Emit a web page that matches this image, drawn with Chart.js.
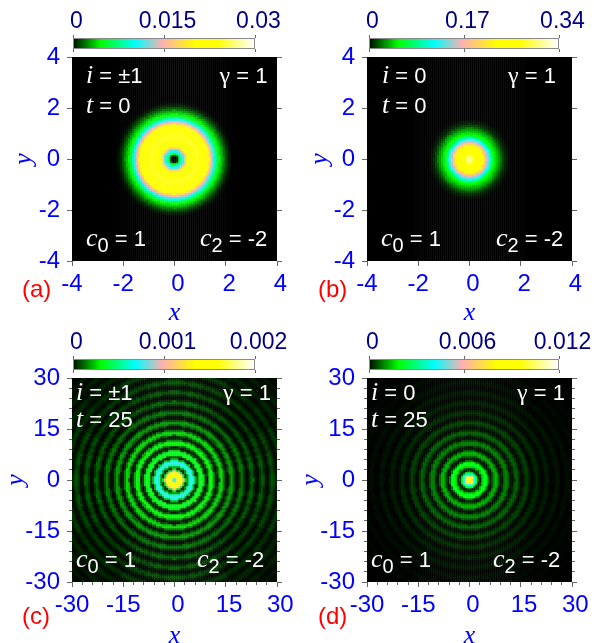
<!DOCTYPE html>
<html>
<head>
<meta charset="utf-8">
<style>
html,body{margin:0;padding:0;background:#fff;width:594px;height:643px;overflow:hidden;position:relative}
canvas{position:absolute;display:block}
</style>
<script src="https://cdn.jsdelivr.net/npm/chart.js@4/dist/chart.umd.min.js"></script>
</head>
<body>
<script>
// Radial density profiles, as a fraction of the colour-bar maximum.
const profileA = [0,.005,.02,.07,.16,.25,.32,.38,.46,.58,.68,.70,.72,.74,.76,.78,.80,.82,.82,.82,.80,.78,.75,.72,.70,.70,.70,.68,.58,.50,.44,.37,.30,.24,.19,.16,.14,.12,.10,.075,.055,.04,.025,.015,.008,.003,0];
const profileB = [.92,.90,.88,.85,.82,.79,.76,.73,.71,.69,.69,.66,.58,.50,.45,.40,.34,.27,.21,.17,.15,.13,.115,.10,.08,.06,.045,.03,.02,.015,.01,.005,0];
const profileC = [.12,.40,.70,.76,.72,.50,.15,.02,.10,.30,.38,.33,.12,.01,.05,.16,.20,.15,.04,.01,.06,.15,.17,.11,.03,.008,.05,.12,.14,.08,.02,.006,.05,.09,.10,.055,.012,.006,.035,.07,.075,.04,.01,.006,.03,.055,.06,.03,.008,.006,.025,.05,.05,.025,.008,.008,.028,.048,.04,.02,.008,.01,.028,.04,.033,.016,.008,.014,.028,.033,.026,.012,.008,.014,.025,.026,.016,.008,.012,.022,.022,.012,.008,.012,.018,.012];
const profileD = [.74,.72,.62,.36,.20,.06,.01,.05,.13,.18,.17,.08,.015,.01,.05,.10,.11,.065,.012,.008,.035,.07,.08,.05,.012,.006,.025,.05,.06,.033,.008,.005,.02,.035,.04,.024,.006,.004,.014,.026,.026,.015,.005,.003,.011,.018,.018,.009,.003,.003,.008,.013,.013,.007,.002,.002,.006,.009,.009,.004,.002,.002,.004,.006,.006,.003,.002,.002,.004,.005,.004,.002,.002,.002,.003,.003,.002,.002,.002,.002,.002,.002,.002,.002,.002,.002];
// Angular strength of the outer rings in panel (c), from the axis (0 deg) to the diagonal (45 deg).
const outerGainC = [1.15,1.0,1.1,.85,.95,.7,.8,.65];
// Colour bars
const barTicksA = [0,0.015,0.03];
const barTicksB = [0,0.17,0.34];
const barTicksC = [0,0.001,0.002];
const barTicksD = [0,0.006,0.012];
const barLabelsA = ['0','0.015','0.03'];
const barLabelsB = ['0','0.17','0.34'];
const barLabelsC = ['0','0.001','0.002'];
const barLabelsD = ['0','0.006','0.012'];
// Palette
const paletteStops = [0,.16,.35,.5,.68,.8,1];
const paletteRGB = [[0,0,0],[0,255,0],[0,255,255],[255,176,176],[255,255,0],[255,255,0],[255,255,255]];

function colorOf(t){
  t = Math.max(0,Math.min(1,t));
  let i = 0;
  while(i < paletteStops.length-2 && t > paletteStops[i+1]) i++;
  const f = (t-paletteStops[i])/(paletteStops[i+1]-paletteStops[i]);
  const a = paletteRGB[i], b = paletteRGB[i+1];
  return 'rgb('+a.map((v,k)=>Math.round(v+(b[k]-v)*f)).join(',')+')';
}

const SANS = '"Liberation Sans"', SERIF = '"Liberation Serif"';
const BLUE = '#0000ff', NAVY = '#00007f', TICK = '#666666';

const panels = [
 {tag:'(a)',tagX:22,tagY:297,profile:profileA,step:.05,lim:4,major:2,minor:0,max:.03,bt:barTicksA,bl:barLabelsA,
  L:72,T:57,cl:-10,ct:40,cb:335,yp:19,xp:6.6,
  bar:{l:73,r:255,t:38,b:49},
  text:[[86,83,'i',' = ±1'],[86,113,'t',' = 0'],[219.5,83,'g',' = 1'],[86,246,'c','0',' = 1'],[200,246,'c','2',' = -2']]},
 {tag:'(b)',tagX:318,tagY:297,profile:profileB,step:.05,lim:4,major:2,minor:0,max:.34,bt:barTicksB,bl:barLabelsB,
  L:367,T:57,cl:287,ct:40,cb:335,yp:18,xp:6.6,
  bar:{l:369,r:559,t:38,b:49},
  text:[[382,83,'i',' = 0'],[382,113,'t',' = 0'],[508,83,'g',' = 1'],[381,246,'c','0',' = 1'],[496,246,'c','2',' = -2']]},
 {tag:'(c)',tagX:22,tagY:624,profile:profileC,step:.5,gain:outerGainC,lim:30,major:15,minor:3,max:.002,bt:barTicksC,bl:barLabelsC,
  L:72,T:378,cl:-10,ct:360,cb:660,yp:10.6,xp:8.6,
  bar:{l:73,r:255,t:359,b:370},
  text:[[76,399.5,'i',' = ±1'],[76,427,'t',' = 25'],[223,399.5,'g',' = 1'],[76,567,'c','0',' = 1'],[197,567,'c','2',' = -2']]},
 {tag:'(d)',tagX:318,tagY:624,profile:profileD,step:.5,lim:30,major:15,minor:3,max:.012,bt:barTicksD,bl:barLabelsD,
  L:367,T:378,cl:287,ct:360,cb:660,yp:8.6,xp:8.6,
  bar:{l:369,r:559,t:359,b:370},
  text:[[371,399.5,'i',' = 0'],[371,427,'t',' = 25'],[517,399.5,'g',' = 1'],[371,567,'c','0',' = 1'],[493,567,'c','2',' = -2']]}
];
const AREA_W = 205, AREA_H = 204, CELLS = 102;

function addCanvas(l,t,w,h){
  const c = document.createElement('canvas');
  c.width = w; c.height = h;
  c.style.left = l+'px'; c.style.top = t+'px';
  c.style.width = w+'px'; c.style.height = h+'px';
  document.body.appendChild(c);
  return c;
}
function noPad(s){ s.paddingLeft = s.paddingRight = s.paddingTop = s.paddingBottom = 0; }
function fixW(w){ return s => { s.width = w; noPad(s); }; }
function fixH(h){ return s => { s.height = h; noPad(s); }; }
function tickGrid(len){ return {display:true,drawOnChartArea:false,drawTicks:true,tickLength:len,tickColor:TICK,tickWidth:1}; }

function drawRuns(ctx,p,ox,oy){
  ctx.save();
  ctx.textBaseline = 'alphabetic';
  ctx.textAlign = 'left';
  ctx.fillStyle = '#fff';
  for(const r of p.text){
    let x = r[0]-ox; const y = r[1]-oy;
    const put = (s,font,dy)=>{ ctx.font = font; ctx.fillText(s,x,y+(dy||0)); x += ctx.measureText(s).width; };
    if(r[2]==='g') put('γ','24px '+SERIF);
    else put(r[2],'italic 26px '+SERIF);
    if(r[2]==='c'){ put(r[3],'20px '+SANS,6); put(r[4],'22px '+SANS); }
    else put(r[3],'22px '+SANS);
  }
  ctx.fillStyle = '#ff0000';
  ctx.font = '24px '+SANS;
  ctx.fillText(p.tag,p.tagX-ox,p.tagY-oy);
  ctx.restore();
}

function heatChart(p){
  const cw = p.L+AREA_W+24-p.cl, ch = p.cb-p.ct;
  const canvas = addCanvas(p.cl,p.ct,cw,ch);
  const cellsData = [], cellsColor = [];
  const d = 2*p.lim/CELLS;
  for(let j=0;j<CELLS;j++){
    const y = -p.lim+(j+.5)*d;
    for(let i=0;i<CELLS;i++){
      const x = -p.lim+(i+.5)*d;
      const r = Math.hypot(x,y);
      const k = Math.round(r/p.step);
      let v = k<p.profile.length ? p.profile[k] : 0;
      if(p.gain){
        const a = Math.atan2(Math.abs(y),Math.abs(x));
        const fold = Math.min(a,Math.PI/2-a);
        const g = p.gain[Math.round(fold/(Math.PI/4)*(p.gain.length-1))];
        const w = Math.max(0,Math.min(1,(r-16)/8));
        v *= 1+(g-1)*w;
      }
      const value = v*p.max;
      cellsData.push({x,y,v:value});
      cellsColor.push(colorOf(value/p.max));
    }
  }
  const tickFont = {family:SANS,size:24};
  const titleFont = {family:SERIF,size:26,style:'italic'};
  const scales = {
    x:{type:'linear',position:'bottom',min:-p.lim,max:p.lim,
       ticks:{stepSize:p.major,color:BLUE,font:tickFont,padding:4,autoSkip:false,maxRotation:0,
              callback:v=>(v>=0?' ':'')+v},
       grid:tickGrid(5),border:{display:false},
       title:{display:true,text:'x',color:BLUE,font:titleFont,padding:{top:0,bottom:p.xp}},
       afterFit:fixH(p.cb-(p.T+AREA_H))},
    y:{type:'linear',position:'left',min:-p.lim,max:p.lim,
       ticks:{stepSize:p.major,color:BLUE,font:tickFont,padding:7,autoSkip:false},
       grid:tickGrid(5),border:{display:false},
       title:{display:true,text:'y',color:BLUE,font:titleFont,padding:{top:p.yp,bottom:0}},
       afterFit:fixW(p.L-p.cl)},
    yR:{axis:'y',type:'linear',position:'right',min:-p.lim,max:p.lim,
       ticks:{stepSize:p.major,display:false},grid:tickGrid(5),border:{display:false},
       afterFit:fixW(24)}
  };
  if(p.minor){
    const minorTicks = {stepSize:p.minor,display:false,autoSkip:false};
    scales.xMinor = {axis:'x',type:'linear',position:'bottom',min:-p.lim,max:p.lim,weight:-1,ticks:minorTicks,
       grid:tickGrid(3),border:{display:false},afterFit:fixH(0)};
    scales.yMinor = {axis:'y',type:'linear',position:'left',min:-p.lim,max:p.lim,weight:-1,ticks:minorTicks,
       grid:tickGrid(3),border:{display:false},afterFit:fixW(0)};
    scales.yMinorR = {axis:'y',type:'linear',position:'right',min:-p.lim,max:p.lim,weight:-1,ticks:minorTicks,
       grid:tickGrid(3),border:{display:false},afterFit:fixW(0)};
  }
  new Chart(canvas,{
    type:'scatter',
    data:{datasets:[{
      label:p.tag,data:cellsData,xAxisID:'x',yAxisID:'y',
      pointStyle:'rect',pointRadius:2.4/Math.SQRT2,pointBorderWidth:0,
      pointBackgroundColor:cellsColor,clip:0,parsing:false,normalized:true
    }]},
    options:{
      responsive:false,animation:false,devicePixelRatio:1,events:[],
      layout:{padding:{top:p.T-p.ct,left:0,right:0,bottom:0},autoPadding:false},
      plugins:{legend:{display:false},tooltip:{enabled:false},title:{display:false}},
      scales
    },
    plugins:[{id:'notes',afterDraw(c){ drawRuns(c.ctx,p,p.cl,p.ct); }}]
  });
}

function barChart(p){
  const b = p.bar;
  const cl = b.l-30, cr = b.r+45, ct = b.t-38+1, cb = b.b+8;
  const canvas = addCanvas(cl,ct,cr-cl,cb-ct);
  const segments = [], colors = [];
  const N = Math.round((b.r-b.l)/2);
  for(let i=0;i<N;i++){
    segments.push({x:[i/N*p.max,(i+1)/N*p.max],y:'bar'});
    colors.push(colorOf((i+.5)/N));
  }
  const setTicks = s => { s.ticks = p.bt.map(v=>({value:v})); };
  new Chart(canvas,{
    type:'bar',
    data:{labels:['bar'],datasets:[{label:'colour bar',data:segments,backgroundColor:colors,
      borderWidth:0,barPercentage:1,categoryPercentage:1,grouped:false,inflateAmount:1,clip:0}]},
    options:{
      indexAxis:'y',responsive:false,animation:false,devicePixelRatio:1,events:[],
      layout:{padding:{left:30,right:45,top:0,bottom:0},autoPadding:false},
      plugins:{legend:{display:false},tooltip:{enabled:false}},
      scales:{
        x:{type:'linear',position:'top',min:0,max:p.max,afterBuildTicks:setTicks,
           ticks:{color:NAVY,font:{family:SANS,size:23},padding:0,labelOffset:3.5,autoSkip:false,maxRotation:0,
                  callback:(v,i)=>p.bl[i]},
           grid:tickGrid(3),border:{display:false},afterFit:fixH(b.t-ct)},
        x2:{axis:'x',type:'linear',position:'bottom',min:0,max:p.max,afterBuildTicks:setTicks,
           ticks:{display:false},grid:tickGrid(3),border:{display:false},afterFit:fixH(cb-b.b)},
        y:{type:'category',display:false,labels:['bar']}
      }
    },
    plugins:[{id:'frame',afterDatasetsDraw(c){
      const a = c.chartArea, g = c.ctx;
      g.save();
      g.strokeStyle = '#8a8a8a'; g.lineWidth = 1;
      g.strokeRect(a.left+.5,a.top+.5,a.right-a.left-1,a.bottom-a.top-1);
      g.restore();
    }}]
  });
}

for(const p of panels){ heatChart(p); barChart(p); }
</script>
</body>
</html>
